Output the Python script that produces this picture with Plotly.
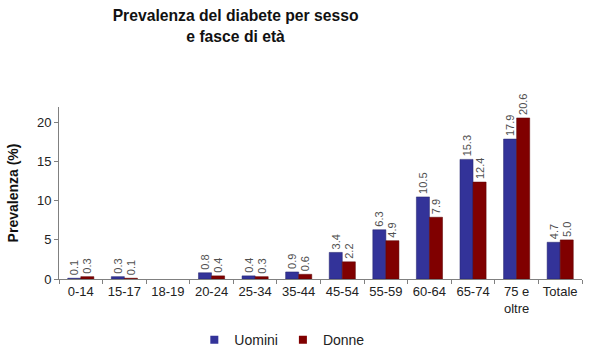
import plotly.graph_objects as go

categories = ["0-14", "15-17", "18-19", "20-24", "25-34", "35-44", "45-54",
              "55-59", "60-64", "65-74", "75 e<br>oltre", "Totale"]
uomini = [0.1, 0.3, None, 0.8, 0.4, 0.9, 3.4, 6.3, 10.5, 15.3, 17.9, 4.7]
donne = [0.3, 0.1, None, 0.4, 0.3, 0.6, 2.2, 4.9, 7.9, 12.4, 20.6, 5.0]
y_ticks = [0, 5, 10, 15, 20]

BLUE = "#333399"
RED = "#800000"

def labels(vals):
    return ["" if v is None else f"{v:.1f}" for v in vals]

fig = go.Figure()
for name, vals, col, edge in [("Uomini", uomini, BLUE, "#22226a"), ("Donne", donne, RED, "#5a0000")]:
    fig.add_trace(go.Bar(name=name, x=categories, y=vals, text=labels(vals),
                         marker=dict(color=col, line=dict(color=edge, width=0.5)),
                         textposition="outside", textangle=-90, cliponaxis=False,
                         showlegend=False,
                         textfont=dict(size=11, color="#505050", family="Arial")))
# legend entries with small square swatches
for name, col in [("Uomini", BLUE), ("Donne", RED)]:
    fig.add_trace(go.Scatter(name=name, x=[None], y=[None], mode="markers",
                             marker=dict(symbol="square", size=8, color=col),
                             showlegend=True))

fig.update_layout(
    width=589, height=353,
    margin=dict(l=59, r=7, t=107, b=74, autoexpand=False),
    paper_bgcolor="white", plot_bgcolor="white",
    barmode="group", bargap=0.4, bargroupgap=0.0,
    font=dict(family="Arial", color="#222222"),
    title=dict(text="<b>Prevalenza del diabete per sesso<br>e fasce di età</b>",
               x=0.4, xanchor="center", y=0.94, yanchor="middle",
               font=dict(size=15.7, color="#111111", family="Arial")),
    uniformtext=dict(minsize=11, mode="show"),
    showlegend=True,
    legend=dict(orientation="h", x=0.427, xanchor="center", y=-0.355, yanchor="middle",
                font=dict(size=14, color="#222222"), itemwidth=30,
                tracegroupgap=0, traceorder="normal"),
)
fig.update_yaxes(range=[0, 22], tickvals=y_ticks, showgrid=False, zeroline=False,
                 showline=True, linecolor="#808080", linewidth=1,
                 ticks="outside", ticklen=4, tickcolor="#808080", automargin=False,
                 tickfont=dict(size=13, color="#222222"),
                 title=dict(text="<b>Prevalenza (%)</b>", font=dict(size=14, color="#111111"),
                            standoff=15))
fig.update_xaxes(showgrid=False, showline=True, linecolor="#808080", linewidth=1,
                 ticks="outside", tickson="boundaries", ticklen=4, tickcolor="#808080",
                 automargin=False,
                 tickfont=dict(size=13, color="#222222"), tickangle=0)

fig.write_html("out.html")
